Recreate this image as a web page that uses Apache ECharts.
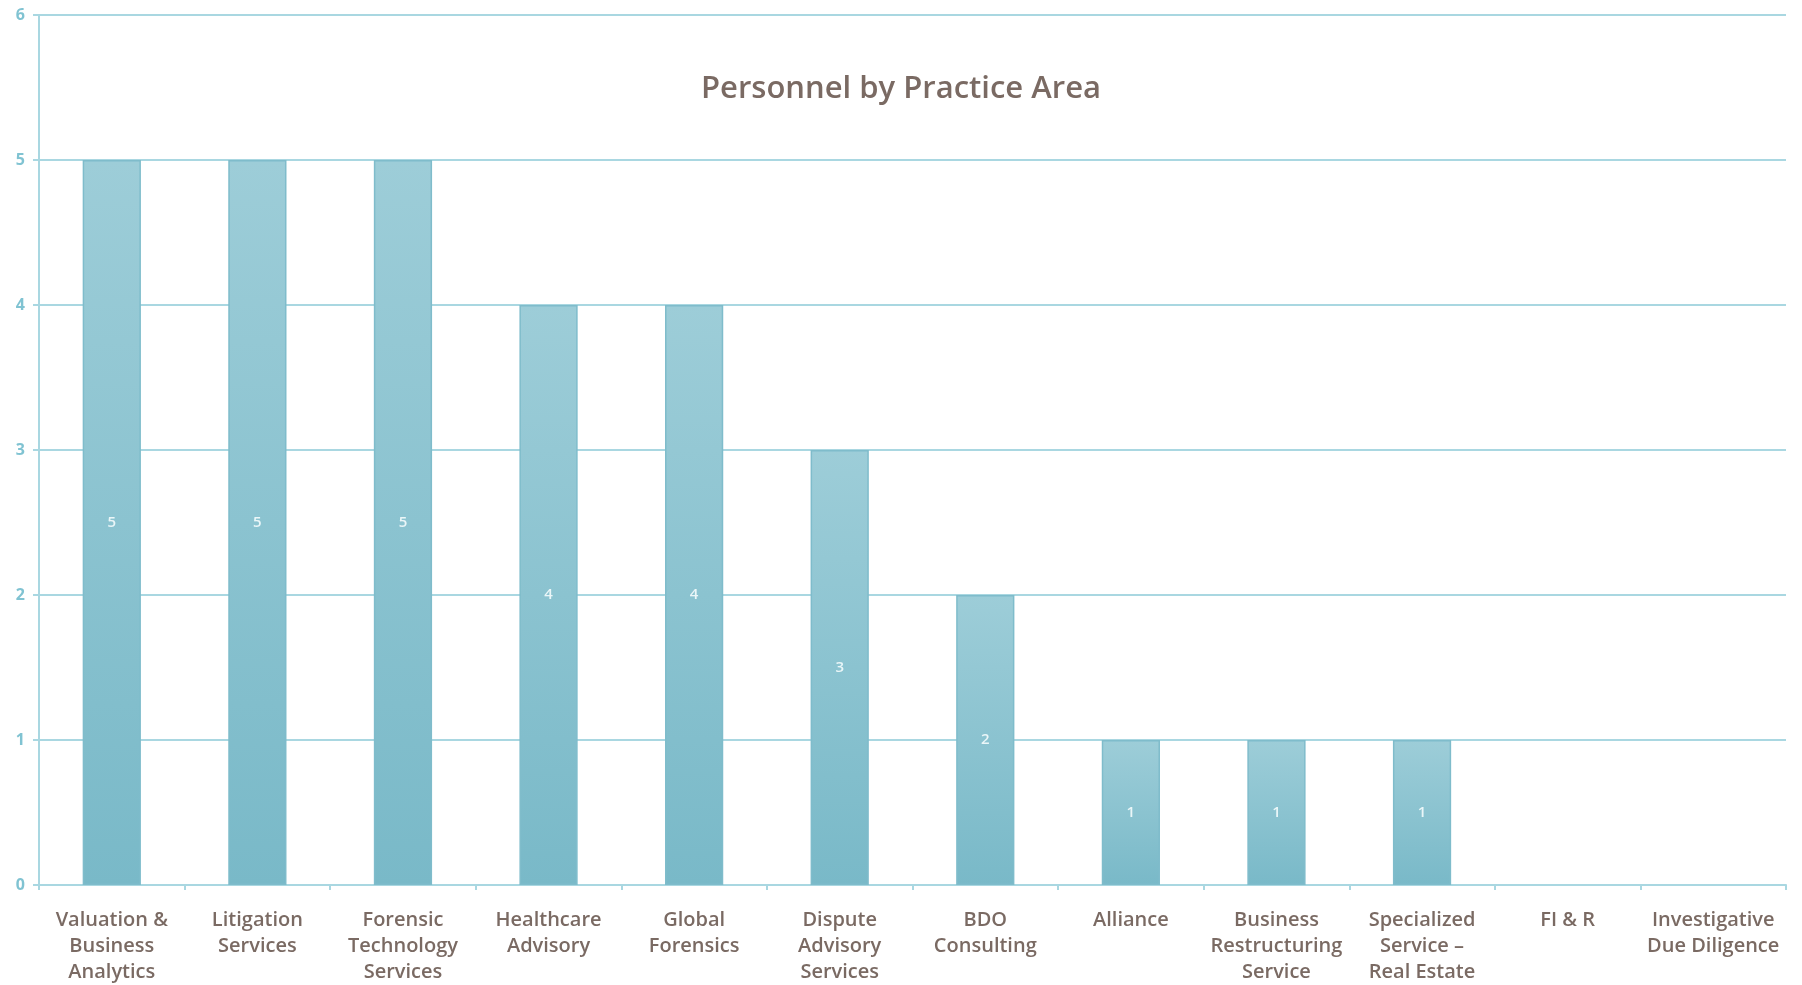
<!DOCTYPE html>
<html>
<head>
<meta charset="utf-8">
<title>Personnel by Practice Area</title>
<script src="https://cdn.jsdelivr.net/npm/echarts@6/dist/echarts.min.js"></script>
<style>
  html, body { margin: 0; padding: 0; background: #ffffff; }
  #chart { width: 1802px; height: 985px; }
</style>
</head>
<body>
<div id="chart"></div>
<script>
// Practice areas (line breaks as shown under the axis)
const categories = [
  'Valuation &\nBusiness\nAnalytics',
  'Litigation\nServices',
  'Forensic\nTechnology\nServices',
  'Healthcare\nAdvisory',
  'Global\nForensics',
  'Dispute\nAdvisory\nServices',
  'BDO\nConsulting',
  'Alliance',
  'Business\nRestructuring\nService',
  'Specialized\nService \u2013\nReal Estate',
  'FI & R',
  'Investigative\nDue Diligence'
];

// Headcount per practice area
const personnel = [5, 5, 5, 4, 4, 3, 2, 1, 1, 1, 0, 0];

// Value axis range
const yMin = 0;
const yMax = 6;
const yStep = 1;

const textColor = '#7a6a63';
const axisBlue = '#a9d7e1';
const tickLabelBlue = '#80c3d2';

const barFill = new echarts.graphic.LinearGradient(0, 0, 0, 1, [
  { offset: 0, color: '#9dcdd8' },
  { offset: 1, color: '#79b9c8' }
]);

// empty categories get no outline so nothing shows on the baseline
const barData = personnel.map(v => ({
  value: v,
  itemStyle: { borderWidth: v > 0 ? 1.5 : 0 }
}));

const chart = echarts.init(document.getElementById('chart'), null, { renderer: 'canvas' });

chart.setOption({
  backgroundColor: '#ffffff',
  animation: false,
  title: {
    text: 'Personnel by Practice Area',
    left: 'center',
    top: 69,
    textStyle: {
      fontFamily: 'Open Sans',
      fontSize: 31,
      fontWeight: 600,
      color: textColor
    }
  },
  grid: {
    left: 39,
    right: 16,
    top: 15,
    bottom: 100,
    containLabel: false
  },
  xAxis: {
    type: 'category',
    data: categories,
    boundaryGap: true,
    axisLine: { show: true, lineStyle: { color: axisBlue, width: 2 } },
    axisTick: { show: true, alignWithLabel: false, length: 5, lineStyle: { color: axisBlue, width: 2 } },
    axisLabel: {
      interval: 0,
      margin: 22,
      fontFamily: 'Open Sans',
      fontSize: 20,
      fontWeight: 600,
      lineHeight: 26,
      color: textColor,
      align: 'center'
    },
    splitLine: { show: false }
  },
  yAxis: {
    type: 'value',
    min: yMin,
    max: yMax,
    interval: yStep,
    axisLine: { show: true, lineStyle: { color: axisBlue, width: 2 } },
    axisTick: { show: true, length: 6, lineStyle: { color: axisBlue, width: 2 } },
    axisLabel: {
      margin: 14,
      fontFamily: 'Open Sans',
      fontSize: 16,
      fontWeight: 'bold',
      color: tickLabelBlue
    },
    splitLine: { show: true, lineStyle: { color: axisBlue, width: 2 } }
  },
  series: [{
    type: 'bar',
    data: barData,
    barWidth: '40%',
    itemStyle: {
      color: barFill,
      borderColor: '#7fbccb'
    },
    label: {
      show: true,
      position: 'inside',
      fontFamily: 'Open Sans',
      fontSize: 15,
      fontWeight: 600,
      color: '#eaf6f8',
      formatter: p => (p.value > 0 ? String(p.value) : '')
    },
    emphasis: { disabled: true }
  }]
});
</script>
</body>
</html>
